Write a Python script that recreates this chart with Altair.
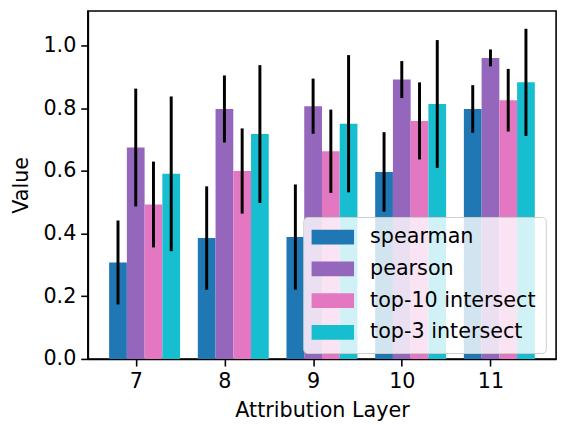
import altair as alt
import pandas as pd

layers = [7, 8, 9, 10, 11]
series = ["spearman", "pearson", "top-10 intersect", "top-3 intersect"]
colors = ["#1f77b4", "#9467bd", "#e377c2", "#17becf"]

spearman = [0.308, 0.386, 0.389, 0.597, 0.798]
spearman_err = [0.134, 0.165, 0.168, 0.127, 0.076]
pearson = [0.675, 0.798, 0.807, 0.892, 0.961]
pearson_err = [0.188, 0.107, 0.088, 0.059, 0.027]
top10 = [0.493, 0.600, 0.663, 0.760, 0.826]
top10_err = [0.137, 0.136, 0.133, 0.123, 0.100]
top3 = [0.591, 0.718, 0.751, 0.814, 0.883]
top3_err = [0.247, 0.220, 0.219, 0.204, 0.171]

vals = [spearman, pearson, top10, top3]
errs = [spearman_err, pearson_err, top10_err, top3_err]

rows = []
for s, v, e in zip(series, vals, errs):
    for l, vv, ee in zip(layers, v, e):
        rows.append({"layer": l, "series": s, "value": vv, "err": ee})
df = pd.DataFrame(rows)

FONT = "DejaVu Sans"
FS = 21
series_js = "[" + ",".join('"%s"' % s for s in series) + "]"

base = alt.Chart(df).transform_calculate(
    xc=f"datum.layer + 0.2*(indexof({series_js}, datum.series) - 1)",
    x1="datum.xc - 0.1",
    x2="datum.xc + 0.1",
    lo="datum.value - datum.err",
    hi="datum.value + datum.err",
)

xscale = alt.Scale(domain=[6.46, 11.74], nice=False, zero=False)
yscale = alt.Scale(domain=[0, 1.111], nice=False)

bars = base.mark_bar(strokeWidth=0).encode(
    x=alt.X("x1:Q", scale=xscale,
            axis=alt.Axis(values=layers, format="d", title="Attribution Layer",
                          grid=False)),
    x2="x2:Q",
    y=alt.Y("value:Q", scale=yscale,
            axis=alt.Axis(values=[0, 0.2, 0.4, 0.6, 0.8, 1.0], format=".1f",
                          title="Value", grid=False)),
    y2=alt.datum(0),
    color=alt.Color("series:N", sort=series,
                    scale=alt.Scale(domain=series, range=colors),
                    legend=alt.Legend(
                        title=None, orient="none", legendX=218.5, legendY=209,
                        fillColor="rgba(255,255,255,0.8)", strokeColor="#cccccc",
                        cornerRadius=4, padding=10, rowPadding=10.2,
                        symbolType="M-2.87,-1H2.87V1H-2.87Z", symbolSize=225,
                        symbolStrokeWidth=0, symbolOffset=9.5, labelOffset=27.3,
                        labelFontSize=FS, labelFont=FONT, labelColor="black",
                        labelLimit=400, symbolOpacity=1)),
)

errbars = base.mark_rule(color="black", strokeWidth=3).encode(
    x=alt.X("xc:Q", scale=xscale),
    y=alt.Y("lo:Q", scale=yscale),
    y2="hi:Q",
)

chart = alt.layer(bars, errbars).properties(
    width=475, height=353,
    autosize=alt.AutoSizeParams(type="none"),
    padding={"left": 81, "top": 0, "right": 7, "bottom": 62},
).configure_view(
    stroke="black", strokeWidth=1.6
).configure_axis(
    labelFont=FONT, labelFontSize=FS, labelColor="black",
    titleFont=FONT, titleFontSize=FS, titleColor="black", titleFontWeight="normal",
    domainColor="black", domainWidth=1.6, tickColor="black", tickWidth=1.6,
    tickSize=7.2, labelPadding=5,
).configure_axisY(titlePadding=12).configure_axisX(titlePadding=8)

chart.save("out.html", embed_options={"renderer": "svg", "actions": False})
